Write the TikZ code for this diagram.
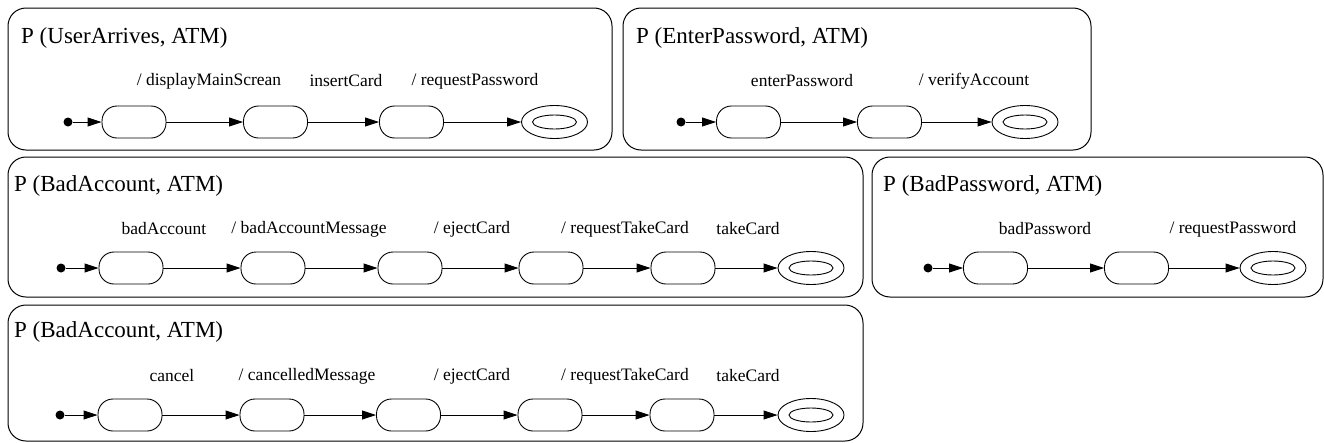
\documentclass[tikz,border=0pt]{standalone}
\usepackage{fontspec}
\setmainfont{Liberation Serif}
\newfontfamily\tms{Liberation Serif}
\usetikzlibrary{arrows.meta,shapes.geometric}
\begin{document}
\begin{tikzpicture}[x=1pt,y=-1pt,
  panel/.style={draw,line width=1pt,rounded corners=18pt,inner sep=0pt},
  ttl/.style={anchor=west,inner sep=0pt,font=\tms\fontsize{23}{27}\selectfont},
  lab/.style={inner sep=0pt,font=\tms\fontsize{17.5}{21}\selectfont},
  st/.style={draw,line width=0.9pt,rounded corners=15pt,minimum width=64pt,minimum height=32pt,inner sep=0pt},
  init/.style={circle,fill=black,minimum size=9pt,inner sep=0pt},
  fin/.style={draw,ellipse,line width=0.9pt,minimum width=66pt,minimum height=33pt,inner sep=0pt},
  fininner/.style={draw,ellipse,line width=0.9pt,minimum width=44pt,minimum height=14pt,inner sep=0pt},
  tr/.style={draw,line width=0.9pt,-{Triangle[length=14pt,width=9pt]}}]
\useasboundingbox (0,0) rectangle (1324,442);
% panels
\node[panel,minimum width=604pt,minimum height=142pt] (P1) at (310,79) {};
\node[panel,minimum width=468pt,minimum height=142pt] (P2) at (857,79) {};
\node[panel,minimum width=855pt,minimum height=140pt] (P3) at (435.5,227) {};
\node[panel,minimum width=451pt,minimum height=140pt] (P4) at (1097.5,227) {};
\node[panel,minimum width=855pt,minimum height=136pt] (P5) at (435.5,373) {};
% titles
\node[ttl] (T1) at (21,38) {P (UserArrives, ATM)};
\node[ttl] (T2) at (636,38) {P (EnterPassword, ATM)};
\node[ttl] (T3) at (14,186) {P (BadAccount, ATM)};
\node[ttl] (T4) at (883,186) {P (BadPassword, ATM)};
\node[ttl] (T5) at (14,332) {P (BadAccount, ATM)};
% panel 1
\node[init] (a0) at (68,122) {};
\node[st] (a1) at (134,122) {};
\node[st] (a2) at (275.5,122) {};
\node[st] (a3) at (411.5,122) {};
\node[fin] (af) at (554.5,122) {};
\node[fininner] (afi) at (af) {};
\draw[tr] (a0) -- (a1);
\draw[tr] (a1) -- (a2);
\draw[tr] (a2) -- (a3);
\draw[tr] (a3) -- (af);
\node[lab] (la1) at (209,81) {/ displayMainScrean};
\node[lab] (la2) at (346,81) {insertCard};
\node[lab] (la3) at (475,81) {/ requestPassword};
% panel 2
\node[init] (b0) at (681,122) {};
\node[st] (b1) at (748.5,122) {};
\node[st] (b2) at (889.5,122) {};
\node[fin] (bf) at (1025,122) {};
\node[fininner] (bfi) at (bf) {};
\draw[tr] (b0) -- (b1);
\draw[tr] (b1) -- (b2);
\draw[tr] (b2) -- (bf);
\node[lab] (lb1) at (802,81) {enterPassword};
\node[lab] (lb2) at (974,81) {/ verifyAccount};
% panel 3
\node[init] (c0) at (61,268) {};
\node[st] (c1) at (131,268) {};
\node[st] (c2) at (273,268) {};
\node[st] (c3) at (410,268) {};
\node[st] (c4) at (551,268) {};
\node[st] (c5) at (683,268) {};
\node[fin] (cf) at (811,268) {};
\node[fininner] (cfi) at (cf) {};
\draw[tr] (c0) -- (c1);
\draw[tr] (c1) -- (c2);
\draw[tr] (c2) -- (c3);
\draw[tr] (c3) -- (c4);
\draw[tr] (c4) -- (c5);
\draw[tr] (c5) -- (cf);
\node[lab] (lc1) at (164,229) {badAccount};
\node[lab] (lc2) at (309,229) {/ badAccountMessage};
\node[lab] (lc3) at (472,229) {/ ejectCard};
\node[lab] (lc4) at (625,229) {/ requestTakeCard};
\node[lab] (lc5) at (748,229) {takeCard};
% panel 4
\node[init] (d0) at (928,268) {};
\node[st] (d1) at (995.5,268) {};
\node[st] (d2) at (1136.5,268) {};
\node[fin] (df) at (1273,268) {};
\node[fininner] (dfi) at (df) {};
\draw[tr] (d0) -- (d1);
\draw[tr] (d1) -- (d2);
\draw[tr] (d2) -- (df);
\node[lab] (ld1) at (1045,229) {badPassword};
\node[lab] (ld2) at (1233,229) {/ requestPassword};
% panel 5
\node[init] (e0) at (60,415) {};
\node[st] (e1) at (130,415) {};
\node[st] (e2) at (272,415) {};
\node[st] (e3) at (408.5,415) {};
\node[st] (e4) at (550,415) {};
\node[st] (e5) at (682,415) {};
\node[fin] (ef) at (811,415) {};
\node[fininner] (efi) at (ef) {};
\draw[tr] (e0) -- (e1);
\draw[tr] (e1) -- (e2);
\draw[tr] (e2) -- (e3);
\draw[tr] (e3) -- (e4);
\draw[tr] (e4) -- (e5);
\draw[tr] (e5) -- (ef);
\node[lab] (le1) at (172,376) {cancel};
\node[lab] (le2) at (307,376) {/ cancelledMessage};
\node[lab] (le3) at (472,376) {/ ejectCard};
\node[lab] (le4) at (625,376) {/ requestTakeCard};
\node[lab] (le5) at (748,376) {takeCard};
\end{tikzpicture}
\end{document}
